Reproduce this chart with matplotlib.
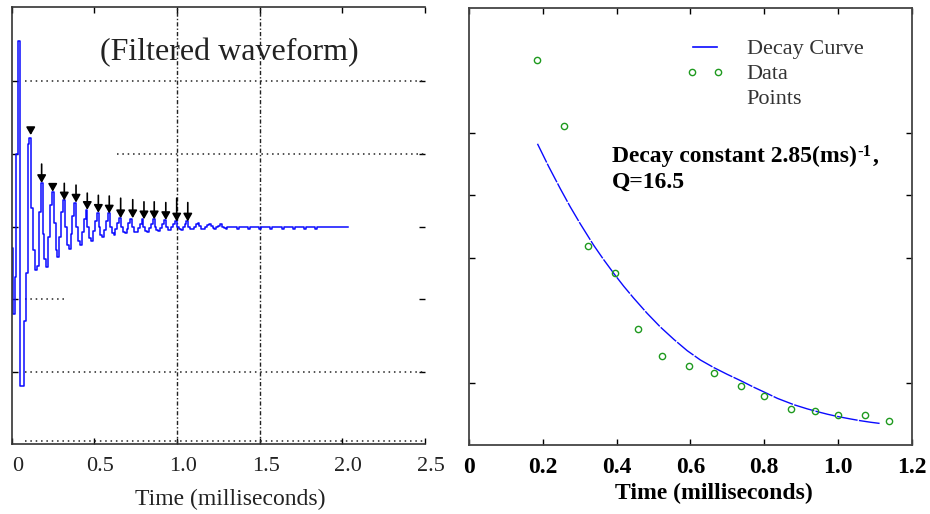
import matplotlib
matplotlib.use("Agg")
import matplotlib.pyplot as plt
from matplotlib.lines import Line2D
from matplotlib.legend_handler import HandlerLine2D
from matplotlib.transforms import ScaledTranslation
import numpy as np

plt.rcParams['font.family'] = ['Liberation Serif', 'DejaVu Serif']

# ---- left: filtered waveform, one sample every dt ms ----
dt = 0.0113
wave = [
    -0.3, -1.2, -0.7, 1.0, 2.55, -2.2, -2.2, -1.3, -0.64, 1.14,
    1.22, 0.25, -0.33, -0.6, -0.55, 0.2,
    0.6, -0.1, -0.45, -0.56, -0.15, 0.3,
    0.48, 0.05, -0.32, -0.42, -0.15, 0.2,
    0.36, 0.0, -0.25, -0.31, -0.1, 0.15,
    0.33, 0.0, -0.2, -0.25, -0.08, 0.1,
    0.23, 0.0, -0.16, -0.2, -0.06, 0.08,
    0.19, 0.0, -0.12, -0.15, -0.05, 0.07,
    0.18, 0.0, -0.09, -0.11, -0.03, 0.05,
    0.12, 0.0, -0.08, -0.09, -0.03, 0.05,
    0.11, 0.0, -0.07, -0.08, -0.02, 0.04,
    0.10, 0.0, -0.06, -0.07, -0.02, 0.04,
    0.10, 0.0, -0.05, -0.06, -0.02, 0.03,
    0.09, 0.0, -0.05, -0.05, -0.01, 0.03,
    0.07, 0.0, -0.04, -0.05, -0.01, 0.03,
    0.07, 0.0, -0.03, -0.04, 0.0, 0.03,
    0.05, 0.01, -0.03, -0.03, 0.0, 0.02,
    0.04, 0.01, -0.02, -0.03, 0.0, 0.01,
    0.03, 0.0, -0.02, -0.03, 0.0, 0.0,
    0.0, 0.0, 0.0, -0.03, 0.0, 0.0,
    0.0, 0.0, 0.0, -0.03, 0.0, 0.0,
    0.0, 0.0, 0.0, -0.03, 0.0, 0.0,
    0.0, 0.0, 0.0, -0.03, 0.0, 0.0,
    0.0, 0.0, 0.0, -0.03, 0.0, 0.0,
    0.0, 0.0, 0.0, -0.03, 0.0, 0.0,
    0.0, 0.0, 0.0, -0.03, 0.0, 0.0,
    0.0, 0.0, 0.0, -0.03, 0.0, 0.0,
    0.0, 0.0, 0.0, 0.0, 0.0, 0.0, 0.0, 0.0,
    0.0, 0.0, 0.0, 0.0, 0.0, 0.0, 0.0,
]
t_wave = np.arange(len(wave)) * dt

# peak markers (arrows)
arrow_t = [0.115, 0.181, 0.248, 0.318, 0.389, 0.457, 0.524, 0.590,
           0.659, 0.732, 0.800, 0.862, 0.932, 0.998, 1.065]
arrow_tail = [1.32, 0.86, 0.54, 0.595, 0.57, 0.46, 0.43, 0.42,
              0.39, 0.37, 0.34, 0.34, 0.33, 0.39, 0.33]
arrow_tip = [1.26, 0.60, 0.48, 0.36, 0.33, 0.23, 0.19, 0.18,
             0.115, 0.115, 0.10, 0.10, 0.09, 0.07, 0.07]

# partial dotted grid lines: level, start, end
grid_y = [2, 1, -1, -2, -2.95]
grid_from = [0.08, 0.635, 0.08, 0.08, 0.08]
grid_to = [2.5, 2.5, 0.32, 2.5, 2.5]

# ---- right: decay of peak amplitudes ----
pt_t = [0.185, 0.258, 0.321, 0.394, 0.459, 0.523, 0.595, 0.663,
        0.736, 0.799, 0.872, 0.938, 1.001, 1.074, 1.139]
pt_amp = [3.58, 3.05, 2.09, 1.88, 1.43, 1.21, 1.13, 1.08,
          0.97, 0.89, 0.79, 0.77, 0.74, 0.74, 0.69]
fit_t = [0.185, 0.215, 0.247, 0.274, 0.301, 0.337, 0.364, 0.394,
         0.419, 0.446, 0.482, 0.518, 0.555, 0.591, 0.627, 0.663,
         0.700, 0.736, 0.772, 0.799, 0.836, 0.881, 0.917, 0.944,
         0.972, 1.001, 1.035, 1.062, 1.089, 1.116]
fit_amp = [2.91, 2.73, 2.55, 2.405, 2.27, 2.10, 1.985, 1.865,
           1.77, 1.675, 1.555, 1.445, 1.345, 1.255, 1.18, 1.12,
           1.065, 1.015, 0.962, 0.925, 0.873, 0.822, 0.789, 0.767,
           0.746, 0.727, 0.708, 0.694, 0.682, 0.672]

blue = '#0a0aff'
green = '#1f9a1f'

fig = plt.figure(figsize=(9.3, 5.14), dpi=100)
ax1 = fig.add_axes([0.0126, 0.1356, 0.4444, 0.8502])
ax2 = fig.add_axes([0.5046, 0.1342, 0.4757, 0.8497])

# left panel
for y, x0, x1 in zip(grid_y, grid_from, grid_to):
    ax1.hlines(y, x0, x1, colors='#222222', lw=1.1, linestyles=(0, (1, 2.5)))
for v in [1.0, 1.5]:
    ax1.axvline(v, color='#222222', lw=1, ls=(0, (3, 1.5, 1, 1.5)))
ax1.plot(t_wave, wave, drawstyle='steps-mid', color=blue, lw=1.1)
for x, a, b in zip(arrow_t, arrow_tail, arrow_tip):
    ax1.annotate('', xy=(x, b), xytext=(x, a),
                 arrowprops=dict(arrowstyle='-|>,head_length=0.35,head_width=0.2',
                                 color='black', lw=1.2, shrinkA=0, shrinkB=0,
                                 mutation_scale=13))
ax1.text(0.526, 0.878, '(Filtered waveform)', transform=ax1.transAxes,
         ha='center', va='baseline', fontsize=23, color='#222222')
ax1.set_xlim(0, 2.5)
ax1.set_ylim(-3, 3.02)
ax1.set_xticks([0, 0.5, 1.0, 1.5, 2.0, 2.5])
ax1.set_xticklabels(['0', '0.5', '1.0', '1.5', '2.0', '2.5'])
ax1.set_yticks([-2, -1, 0, 1, 2])
ax1.tick_params(direction='in', top=True, right=True, length=4, width=1,
                labelsize=16, labelleft=False, pad=9, labelcolor='#222222')
ax1.spines['right'].set_visible(False)
for s in ['left', 'top', 'bottom']:
    ax1.spines[s].set_color('#333333')
    ax1.spines[s].set_linewidth(1.2)
ax1.set_xlabel('Time (milliseconds)', fontsize=17, color='#222222')
ax1.xaxis.set_label_coords(0.528, -0.101)

# right panel
ax2.plot(fit_t, fit_amp, color=blue, lw=1, ls=(0, (15, 1)))
ax2.plot(pt_t, pt_amp, 'o', ls='none', mfc='none', mec=green, ms=4.5, mew=1)
h_line = Line2D([], [], color=blue, lw=1.2)
h_pts = Line2D([], [], marker='o', ls='none', mfc='none', mec=green, ms=4.5, mew=1)
h_none = Line2D([], [], ls='none')
ax2.legend([h_line, h_pts, h_none], ['Decay Curve', 'Data', 'Points'], loc='upper left',
           bbox_to_anchor=(0.505, 0.93), frameon=False, fontsize=16,
           handlelength=1.1, handletextpad=1.33, labelspacing=0.2, numpoints=2,
           borderpad=0, borderaxespad=0, labelcolor='#333333',
           handler_map={h_line: HandlerLine2D(numpoints=2, marker_pad=0),
                        h_pts: HandlerLine2D(numpoints=2, marker_pad=-0.05)})

# annotation, with a small "-1" superscript
t1 = ax2.text(0.387, 2.766, 'Decay constant 2.85(ms)', fontsize=17,
              fontweight='bold', va='baseline', ha='left')
sup = ax2.annotate('-1', xy=(1, 1), xycoords=t1, xytext=(0.5, 1),
                   textcoords='offset points', fontsize=12, fontweight='bold',
                   va='top', ha='left')
ax2.annotate(',', xy=(1, 0), xycoords=(sup, t1), xytext=(0.5, 0),
             textcoords='offset points', fontsize=17, fontweight='bold',
             va='bottom', ha='left')
ax2.text(0.387, 2.554, 'Q=16.5', fontsize=17, fontweight='bold',
         va='baseline', ha='left')

ax2.set_xlim(0, 1.2)
ax2.set_ylim(0.5, 3.994)
ax2.set_xticks([0, 0.2, 0.4, 0.6, 0.8, 1.0, 1.2])
ax2.set_xticklabels(['0', '0.2', '0.4', '0.6', '0.8', '1.0', '1.2'])
ax2.set_yticks([1, 2, 2.5, 3])
ax2.tick_params(direction='in', top=True, right=True, length=4, width=1,
                labelsize=17, labelleft=False, pad=8.5)
for lbl in ax2.get_xticklabels():
    lbl.set_fontweight('bold')
for s in ax2.spines.values():
    s.set_color('#444444')
    s.set_linewidth(1.3)
ax2.set_xlabel('Time (milliseconds)', fontsize=17, fontweight='bold')
ax2.xaxis.set_label_coords(0.553, -0.0877)

# left tick labels sit a little right of their ticks
for lbl in ax1.get_xticklabels():
    lbl.set_transform(lbl.get_transform() + ScaledTranslation(0.06, 0, fig.dpi_scale_trans))

fig.savefig('out.png', dpi=100)
